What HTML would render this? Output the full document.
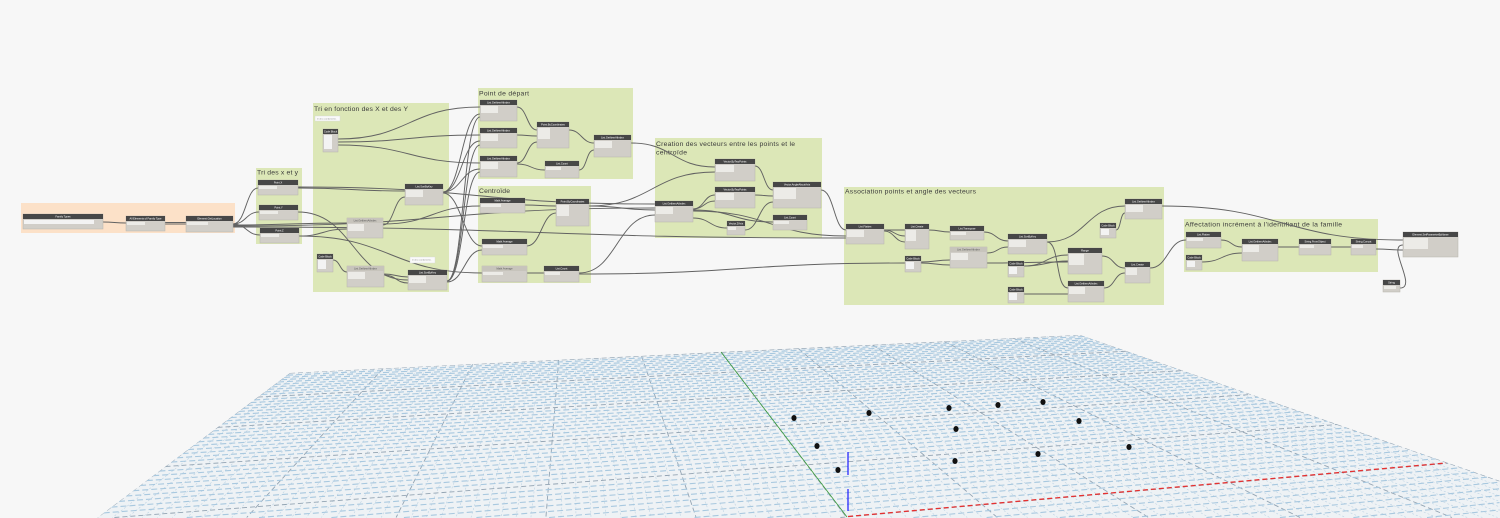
<!DOCTYPE html>
<html><head><meta charset="utf-8">
<style>
html,body{margin:0;padding:0;background:#f7f7f7;width:1500px;height:518px;overflow:hidden}
svg{display:block;overflow:hidden}
.g{fill:#dce7b7}
.go{fill:#fce1c8}
.gt{font-family:"Liberation Sans",sans-serif;font-size:6.8px;fill:#3b3b3b}
.b{fill:#d1cec8;stroke:#b7b4ad;stroke-width:.5}
.h{fill:#474747}
.hl{fill:#c7c4bc}
.i{fill:#ecebe7}
.t{font-family:"Liberation Sans",sans-serif;font-size:2.6px;fill:#fff;text-anchor:middle}
.tl{fill:#555}
.n{fill:#fafafa;stroke:#d6d6d6;stroke-width:.4}
.nt{font-family:"Liberation Sans",sans-serif;font-size:2.2px;fill:#888}
.w path{fill:none;stroke:#626262;stroke-width:.95}
.gn{stroke:#a8c8df;stroke-width:1.1;stroke-dasharray:6 3}
.ga{stroke:#bcd3e4;stroke-width:.6;stroke-dasharray:2 2}
.gm{stroke:#93a4b3;stroke-width:.9;stroke-dasharray:5 3}
</style></head><body>
<svg width="1500" height="518" viewBox="0 0 1500 518" xmlns="http://www.w3.org/2000/svg">
<rect width="1500" height="518" fill="#f7f7f7"/>
<defs><clipPath id="pc"><polygon points="290,373 721,352 1080,335 1500,481 1500,518 97,518"/></clipPath></defs>
<polygon points="290,373 721,352 1080,335 1500,481 1500,518 97,518" fill="#eef2f5"/>
<g id="grid" clip-path="url(#pc)"></g>
<line x1="721" y1="352" x2="847" y2="517" stroke="#3a9a3a" stroke-width=".8"/>
<polyline points="848,516.5 1446,463" fill="none" stroke="#e53030" stroke-width="1.3" stroke-dasharray="5 3"/>
<line x1="848" y1="452" x2="848" y2="475" stroke="#1a1aff" stroke-width="1.2"/>
<line x1="848" y1="489" x2="848" y2="511" stroke="#1a1aff" stroke-width="1.2"/>
<g fill="#111">
<ellipse cx="794" cy="418" rx="2.6" ry="3"/>
<ellipse cx="869" cy="413" rx="2.6" ry="3"/>
<ellipse cx="949" cy="408" rx="2.6" ry="3"/>
<ellipse cx="998" cy="405" rx="2.6" ry="3"/>
<ellipse cx="1043" cy="402" rx="2.6" ry="3"/>
<ellipse cx="1079" cy="421" rx="2.6" ry="3"/>
<ellipse cx="956" cy="429" rx="2.6" ry="3"/>
<ellipse cx="817" cy="446" rx="2.6" ry="3"/>
<ellipse cx="1129" cy="447" rx="2.6" ry="3"/>
<ellipse cx="1038" cy="454" rx="2.6" ry="3"/>
<ellipse cx="838" cy="470" rx="2.6" ry="3"/>
<ellipse cx="955" cy="461" rx="2.6" ry="3"/>
</g>

<!-- groups -->
<rect class="go" x="21" y="203" width="214" height="30"/>
<rect class="g" x="256" y="168" width="46" height="76"/>
<text class="gt" x="257" y="174.5" textLength="41">Tri des x et y</text>
<rect class="g" x="313" y="103" width="136" height="189"/>
<text class="gt" x="314" y="111" textLength="94">Tri en fonction des X et des Y</text>
<rect class="g" x="478" y="88" width="155" height="91"/>
<text class="gt" x="479" y="95.5" textLength="50">Point de départ</text>
<rect class="g" x="478" y="186" width="113" height="97"/>
<text class="gt" x="479" y="193" textLength="31">Centroïde</text>
<rect class="g" x="655" y="138" width="167" height="100"/>
<text class="gt" x="656" y="146" textLength="139">Creation des vecteurs entre les points et le</text>
<text class="gt" x="656" y="154.5" textLength="31">centroïde</text>
<rect class="g" x="844" y="187" width="320" height="118"/>
<text class="gt" x="845" y="193.5" textLength="131">Association points et angle des vecteurs</text>
<rect class="g" x="1184" y="219" width="194" height="53"/>
<text class="gt" x="1185" y="226.5" textLength="157">Affectation incrément à l'identifiant de la famille</text>

<!-- wires -->
<g class="w">
<path d="M103 222C114 222 115 223 126 223"/>
<path d="M165 222.5C175 222.5 176 222.5 186 222.5"/>
<path d="M165 224C175 224 176 224 186 224"/>
<path d="M233 224C246 224 246 188 258 188"/>
<path d="M233 224C246 224 246 212 259 212"/>
<path d="M233 224C246 224 247 235 260 235"/>
<path d="M233 225C290 225 290 223 347 223"/>
<path d="M233 226C444 226 444 208 655 208"/>
<path d="M233 227C540 227 540 238 846 238"/>
<path d="M298 188C352 188 351 191 405 191"/>
<path d="M298 187C476 187 477 204 655 204"/>
<path d="M298 212C353 212 353 280 408 280"/>
<path d="M299 236C390 236 391 273 482 273"/>
<path d="M299 236C323 236 323 229 347 229"/>
<path d="M338 139C409 139 409 107 480 107"/>
<path d="M338 142C409 142 409 135 480 135"/>
<path d="M338 145C409 145 409 163 480 163"/>
<path d="M383 225C394 225 394 197 405 197"/>
<path d="M383 224C431 224 432 206 480 206"/>
<path d="M443 192C461 192 462 114 480 114"/>
<path d="M443 192C461 192 462 141 480 141"/>
<path d="M443 192C461 192 462 169 480 169"/>
<path d="M443 193C461 193 464 246 482 246"/>
<path d="M333 260C340 260 340 272 347 272"/>
<path d="M384 274C396 274 396 277 408 277"/>
<path d="M384 275C396 275 396 283 408 283"/>
<path d="M447 281C464 281 463 117 480 117"/>
<path d="M447 281C464 281 463 145 480 145"/>
<path d="M447 281C464 281 463 172 480 172"/>
<path d="M447 282C464 282 465 250 482 250"/>
<path d="M517 107C527 107 527 130 537 130"/>
<path d="M517 135C527 135 527 136 537 136"/>
<path d="M517 163C527 163 527 142 537 142"/>
<path d="M517 164C531 164 531 170 545 170"/>
<path d="M569 130C581 130 582 143 594 143"/>
<path d="M579 170C587 170 586 150 594 150"/>
<path d="M631 143C673 143 673 167 715 167"/>
<path d="M589 206C652 206 652 172 715 172"/>
<path d="M589 206C622 206 622 210 655 210"/>
<path d="M525 205C540 205 541 206 556 206"/>
<path d="M527 246C541 246 542 213 556 213"/>
<path d="M527 273C535 273 536 273 544 273"/>
<path d="M579 273C617 273 617 215 655 215"/>
<path d="M579 274C742 274 742 263 905 263"/>
<path d="M755 166C764 166 764 190 773 190"/>
<path d="M755 195C764 195 764 196 773 196"/>
<path d="M745 230C759 230 759 202 773 202"/>
<path d="M821 190C834 190 834 230 846 230"/>
<path d="M693 209C704 209 704 195 715 195"/>
<path d="M693 209C704 209 704 201 715 201"/>
<path d="M693 210C733 210 733 222 773 222"/>
<path d="M693 211C770 211 770 236 846 236"/>
<path d="M693 218C710 218 710 228 727 228"/>
<path d="M884 230C894 230 895 230 905 230"/>
<path d="M884 230C894 230 895 236 905 236"/>
<path d="M884 231C894 231 895 242 905 242"/>
<path d="M929 230C940 230 939 232 950 232"/>
<path d="M984 232C996 232 996 241 1008 241"/>
<path d="M987 253C998 253 997 247 1008 247"/>
<path d="M921 262C935 262 936 260 950 260"/>
<path d="M921 263C935 263 936 265 950 265"/>
<path d="M987 263C1027 263 1028 262 1068 262"/>
<path d="M1047 242C1086 242 1086 206 1125 206"/>
<path d="M1047 242C1060 242 1055 288 1068 288"/>
<path d="M1024 266C1046 266 1046 255 1068 255"/>
<path d="M1024 266C1046 266 1046 261 1068 261"/>
<path d="M1102 256C1114 256 1113 268 1125 268"/>
<path d="M1104 288C1115 288 1114 273 1125 273"/>
<path d="M1024 294C1046 294 1046 294 1068 294"/>
<path d="M1116 230C1121 230 1120 213 1125 213"/>
<path d="M1162 206C1282 206 1283 240 1403 240"/>
<path d="M1150 268C1168 268 1168 240 1186 240"/>
<path d="M1221 240C1232 240 1231 247 1242 247"/>
<path d="M1202 262C1222 262 1222 253 1242 253"/>
<path d="M1278 247C1289 247 1288 247 1299 247"/>
<path d="M1331 247C1341 247 1341 247 1351 247"/>
<path d="M1376 249C1390 249 1389 250 1403 250"/>
<path d="M1400 288C1418 288 1386 245 1403 245"/>
</g>

<!-- nodes -->
<rect class="b" x="23" y="214" width="80" height="15"/><rect class="h" x="23" y="214" width="80" height="5"/><text class="t" x="63" y="217.6">Family Types</text><rect x="24" y="220" width="70" height="4" fill="#f3f3f3"/>
<rect class="b" x="126" y="216" width="39" height="15"/><rect class="h" x="126" y="216" width="39" height="5"/><text class="t" x="145.5" y="219.6">All Elements of Family Type</text><rect class="i" x="127" y="222" width="18" height="3"/>
<rect class="b" x="186" y="216" width="47" height="16"/><rect class="h" x="186" y="216" width="47" height="5"/><text class="t" x="209.5" y="219.6">Element.GetLocation</text><rect class="i" x="187" y="222" width="21" height="3"/>

<rect class="b" x="258" y="180" width="40" height="15"/><rect class="h" x="258" y="180" width="40" height="5"/><text class="t" x="278" y="183.6">Point.X</text><rect class="i" x="259" y="186" width="18" height="3"/>
<rect class="b" x="259" y="205" width="39" height="15"/><rect class="h" x="259" y="205" width="39" height="5"/><text class="t" x="278.5" y="208.6">Point.Y</text><rect class="i" x="260" y="211" width="18" height="3"/>
<rect class="b" x="260" y="228" width="39" height="15"/><rect class="h" x="260" y="228" width="39" height="5"/><text class="t" x="279.5" y="231.6">Point.Z</text><rect class="i" x="261" y="234" width="18" height="3"/>

<rect class="n" x="315" y="116" width="25" height="5"/><text class="nt" x="317" y="119.3">tri des coordonnées</text>
<rect class="b" x="323" y="129" width="15" height="23"/><rect class="h" x="323" y="129" width="15" height="5"/><text class="t" x="330.5" y="132.6">Code Block</text><rect x="324" y="135" width="8" height="14" fill="#f3f3f3"/>
<rect class="b" x="347" y="218" width="36" height="20"/><rect class="hl" x="347" y="218" width="36" height="5"/><text class="t tl" x="365" y="221.6">List.GetItemAtIndex</text><rect class="i" x="348" y="224" width="16" height="7"/>
<rect class="b" x="405" y="184" width="38" height="21"/><rect class="h" x="405" y="184" width="38" height="5"/><text class="t" x="424" y="187.6">List.SortByKey</text><rect class="i" x="406" y="190" width="17" height="7"/>
<rect class="b" x="317" y="254" width="16" height="18"/><rect class="h" x="317" y="254" width="16" height="5"/><text class="t" x="325" y="257.6">Code Block</text><rect x="318" y="260" width="8" height="9" fill="#f3f3f3"/>
<rect class="b" x="347" y="266" width="37" height="21"/><rect class="hl" x="347" y="266" width="37" height="5"/><text class="t tl" x="365.5" y="269.6">List.GetItemAtIndex</text><rect class="i" x="348" y="272" width="17" height="7"/>
<rect class="b" x="408" y="270" width="39" height="20"/><rect class="h" x="408" y="270" width="39" height="5"/><text class="t" x="427.5" y="273.6">List.SortByKey</text><rect class="i" x="409" y="276" width="17" height="7"/>
<rect class="n" x="410" y="257" width="25" height="6"/><text class="nt" x="412" y="260.7">tri des coordonnées</text>

<rect class="b" x="480" y="100" width="37" height="21"/><rect class="h" x="480" y="100" width="37" height="5"/><text class="t" x="498.5" y="103.6">List.GetItemAtIndex</text><rect class="i" x="481" y="106" width="17" height="7"/>
<rect class="b" x="480" y="128" width="37" height="20"/><rect class="h" x="480" y="128" width="37" height="5"/><text class="t" x="498.5" y="131.6">List.GetItemAtIndex</text><rect class="i" x="481" y="134" width="17" height="7"/>
<rect class="b" x="480" y="156" width="37" height="21"/><rect class="h" x="480" y="156" width="37" height="5"/><text class="t" x="498.5" y="159.6">List.GetItemAtIndex</text><rect class="i" x="481" y="162" width="17" height="7"/>
<rect class="b" x="537" y="122" width="32" height="26"/><rect class="h" x="537" y="122" width="32" height="5"/><text class="t" x="553" y="125.6">Point.ByCoordinates</text><rect class="i" x="538" y="128" width="12" height="11"/>
<rect class="b" x="594" y="135" width="37" height="22"/><rect class="h" x="594" y="135" width="37" height="5"/><text class="t" x="612.5" y="138.6">List.GetItemAtIndex</text><rect class="i" x="595" y="141" width="17" height="7"/>
<rect class="b" x="545" y="161" width="34" height="17"/><rect class="h" x="545" y="161" width="34" height="5"/><text class="t" x="562" y="164.6">List.Count</text><rect class="i" x="546" y="167" width="15" height="3"/>

<rect class="b" x="480" y="198" width="45" height="15"/><rect class="h" x="480" y="198" width="45" height="5"/><text class="t" x="502.5" y="201.6">Math.Average</text><rect class="i" x="481" y="204" width="20" height="3"/>
<rect class="b" x="556" y="199" width="33" height="27"/><rect class="h" x="556" y="199" width="33" height="5"/><text class="t" x="572.5" y="202.6">Point.ByCoordinates</text><rect class="i" x="557" y="205" width="12" height="11"/>
<rect class="b" x="482" y="239" width="45" height="16"/><rect class="h" x="482" y="239" width="45" height="5"/><text class="t" x="504.5" y="242.6">Math.Average</text><rect class="i" x="483" y="245" width="20" height="3"/>
<rect class="b" x="482" y="266" width="45" height="16"/><rect class="hl" x="482" y="266" width="45" height="5"/><text class="t tl" x="504.5" y="269.6">Math.Average</text><rect class="i" x="483" y="272" width="20" height="3"/>
<rect class="b" x="544" y="266" width="35" height="16"/><rect class="h" x="544" y="266" width="35" height="5"/><text class="t" x="561.5" y="269.6">List.Count</text><rect class="i" x="545" y="272" width="15" height="3"/>

<rect class="b" x="715" y="159" width="40" height="22"/><rect class="h" x="715" y="159" width="40" height="5"/><text class="t" x="735" y="162.6">Vector.ByTwoPoints</text><rect class="i" x="716" y="165" width="18" height="7"/>
<rect class="b" x="715" y="187" width="40" height="21"/><rect class="h" x="715" y="187" width="40" height="5"/><text class="t" x="735" y="190.6">Vector.ByTwoPoints</text><rect class="i" x="716" y="193" width="18" height="7"/>
<rect class="b" x="773" y="182" width="48" height="26"/><rect class="h" x="773" y="182" width="48" height="5"/><text class="t" x="797" y="185.6">Vector.AngleAboutAxis</text><rect class="i" x="774" y="188" width="22" height="11"/>
<rect class="b" x="655" y="201" width="38" height="21"/><rect class="h" x="655" y="201" width="38" height="5"/><text class="t" x="674" y="204.6">List.GetItemAtIndex</text><rect class="i" x="656" y="207" width="17" height="7"/>
<rect class="b" x="727" y="221" width="18" height="14"/><rect class="h" x="727" y="221" width="18" height="5"/><text class="t" x="736" y="224.6">Vector.ZAxis</text><rect class="i" x="728" y="227" width="8" height="3"/>
<rect class="b" x="773" y="215" width="34" height="15"/><rect class="h" x="773" y="215" width="34" height="5"/><text class="t" x="790" y="218.6">List.Count</text><rect class="i" x="774" y="221" width="15" height="3"/>

<rect class="b" x="846" y="224" width="38" height="20"/><rect class="h" x="846" y="224" width="38" height="5"/><text class="t" x="865" y="227.6">List.Flatten</text><rect class="i" x="847" y="230" width="17" height="7"/>
<rect class="b" x="905" y="224" width="24" height="25"/><rect class="h" x="905" y="224" width="24" height="5"/><text class="t" x="917" y="227.6">List.Create</text><rect class="i" x="906" y="230" width="10" height="11"/>
<rect class="b" x="950" y="226" width="34" height="14"/><rect class="h" x="950" y="226" width="34" height="5"/><text class="t" x="967" y="229.6">List.Transpose</text><rect class="i" x="951" y="232" width="15" height="3"/>
<rect class="b" x="1008" y="234" width="39" height="20"/><rect class="h" x="1008" y="234" width="39" height="5"/><text class="t" x="1027.5" y="237.6">List.SortByKey</text><rect class="i" x="1009" y="240" width="17" height="7"/>
<rect class="b" x="950" y="247" width="37" height="21"/><rect class="hl" x="950" y="247" width="37" height="5"/><text class="t tl" x="968.5" y="250.6">List.GetItemAtIndex</text><rect class="i" x="951" y="253" width="17" height="7"/>
<rect class="b" x="905" y="256" width="16" height="16"/><rect class="h" x="905" y="256" width="16" height="5"/><text class="t" x="913" y="259.6">Code Block</text><rect x="906" y="262" width="8" height="7" fill="#f3f3f3"/>
<rect class="b" x="1008" y="261" width="16" height="16"/><rect class="h" x="1008" y="261" width="16" height="5"/><text class="t" x="1016" y="264.6">Code Block</text><rect x="1009" y="267" width="8" height="7" fill="#f3f3f3"/>
<rect class="b" x="1068" y="248" width="34" height="26"/><rect class="h" x="1068" y="248" width="34" height="5"/><text class="t" x="1085" y="251.6">Range</text><rect class="i" x="1069" y="254" width="15" height="11"/>
<rect class="b" x="1125" y="199" width="37" height="20"/><rect class="h" x="1125" y="199" width="37" height="5"/><text class="t" x="1143.5" y="202.6">List.GetItemAtIndex</text><rect class="i" x="1126" y="205" width="17" height="7"/>
<rect class="b" x="1100" y="223" width="16" height="15"/><rect class="h" x="1100" y="223" width="16" height="5"/><text class="t" x="1108" y="226.6">Code Block</text><rect x="1101" y="229" width="8" height="6" fill="#f3f3f3"/>
<rect class="b" x="1125" y="262" width="25" height="21"/><rect class="h" x="1125" y="262" width="25" height="5"/><text class="t" x="1137.5" y="265.6">List.Create</text><rect class="i" x="1126" y="268" width="11" height="7"/>
<rect class="b" x="1068" y="281" width="36" height="21"/><rect class="h" x="1068" y="281" width="36" height="5"/><text class="t" x="1086" y="284.6">List.GetItemAtIndex</text><rect class="i" x="1069" y="287" width="16" height="7"/>
<rect class="b" x="1008" y="287" width="16" height="16"/><rect class="h" x="1008" y="287" width="16" height="5"/><text class="t" x="1016" y="290.6">Code Block</text><rect x="1009" y="293" width="8" height="7" fill="#f3f3f3"/>

<rect class="b" x="1186" y="232" width="35" height="16"/><rect class="h" x="1186" y="232" width="35" height="5"/><text class="t" x="1203.5" y="235.6">List.Flatten</text><rect class="i" x="1187" y="238" width="16" height="3"/>
<rect class="b" x="1186" y="255" width="16" height="15"/><rect class="h" x="1186" y="255" width="16" height="5"/><text class="t" x="1194" y="258.6">Code Block</text><rect x="1187" y="261" width="8" height="6" fill="#f3f3f3"/>
<rect class="b" x="1242" y="239" width="36" height="22"/><rect class="h" x="1242" y="239" width="36" height="5"/><text class="t" x="1260" y="242.6">List.GetItemAtIndex</text><rect class="i" x="1243" y="245" width="16" height="7"/>
<rect class="b" x="1299" y="239" width="32" height="16"/><rect class="h" x="1299" y="239" width="32" height="5"/><text class="t" x="1315" y="242.6">String.FromObject</text><rect class="i" x="1300" y="245" width="14" height="3"/>
<rect class="b" x="1351" y="239" width="25" height="16"/><rect class="h" x="1351" y="239" width="25" height="5"/><text class="t" x="1363.5" y="242.6">String.Concat</text><rect class="i" x="1352" y="245" width="11" height="3"/>
<rect class="b" x="1403" y="232" width="55" height="25"/><rect class="h" x="1403" y="232" width="55" height="5"/><text class="t" x="1430.5" y="235.6">Element.SetParameterByName</text><rect class="i" x="1404" y="238" width="24" height="11"/>
<rect class="b" x="1383" y="280" width="17" height="12"/><rect class="h" x="1383" y="280" width="17" height="5"/><text class="t" x="1391.5" y="283.6">String</text><rect class="i" x="1384" y="286" width="12" height="3"/>
</svg>
<script>
(function(){
var ns="http://www.w3.org/2000/svg",g=document.getElementById('grid');
var F=[290,373],VB=[4984,147],VA=[575,159],a=0.2024,K0=-0.5068;
function P(u,k){var d=1+a*u+k;return[(F[0]+a*u*VB[0]+k*VA[0])/d,(F[1]+a*u*VB[1]+k*VA[1])/d];}
function clip(p,q){var x0=p[0],y0=p[1],dx=q[0]-x0,dy=q[1]-y0,t0=0,t1=1;
var P_=[-dx,dx,-dy,dy],Q=[x0-0,1499.5-x0,y0-0,517.5-y0];
for(var m=0;m<4;m++){if(P_[m]==0){if(Q[m]<0)return null;}else{var r=Q[m]/P_[m];
if(P_[m]<0){if(r>t1)return null;if(r>t0)t0=r;}else{if(r<t0)return null;if(r<t1)t1=r;}}}
return[[x0+t0*dx,y0+t0*dy],[x0+t1*dx,y0+t1*dy]];}
function L(p,q,c){var s=clip(p,q);if(!s)return;var l=document.createElementNS(ns,'line');
l.setAttribute('x1',s[0][0].toFixed(1));l.setAttribute('y1',s[0][1].toFixed(1));
l.setAttribute('x2',s[1][0].toFixed(1));l.setAttribute('y2',s[1][1].toFixed(1));
l.setAttribute('class',c);g.appendChild(l);}
var N=100,i,j;
for(i=0;i<=N;i++){var u=i/N;var ke=-(145+75.1*u)/359-0.05;L(P(u,0),P(u,ke),i%10==0?'gm':'ga');}
var M=50;
for(j=0;j<=70;j++){var k=K0*j/M;if(k<-0.68)break;L(P(0,k),P(1,k),j%10==0?'gm':'gn');}
})();
</script>
</body></html>
